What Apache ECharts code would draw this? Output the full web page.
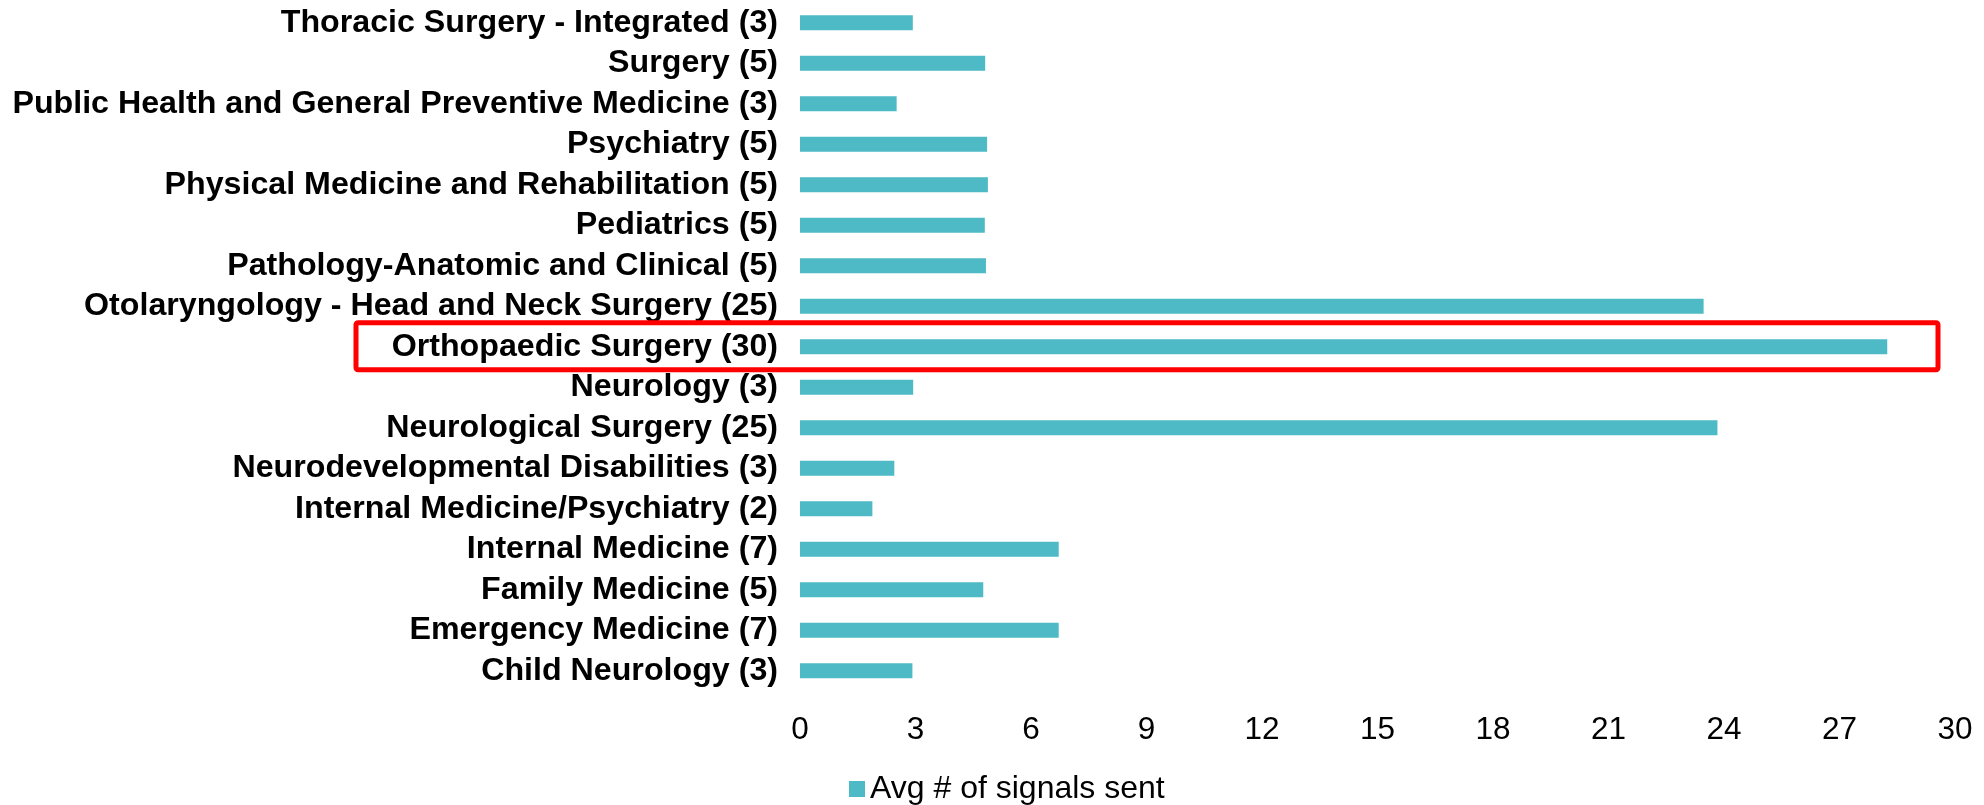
<!DOCTYPE html>
<html>
<head>
<meta charset="utf-8">
<title>Avg # of signals sent</title>
<script src="https://cdn.jsdelivr.net/npm/echarts@6/dist/echarts.min.js"></script>
<style>
  html, body { margin: 0; padding: 0; background: #ffffff; }
  #signalChart { width: 1984px; height: 805px; }
</style>
</head>
<body>
<div id="signalChart"></div>
<script>
// specialties, top to bottom as shown
var specialties = [
    'Thoracic Surgery - Integrated (3)',
    'Surgery (5)',
    'Public Health and General Preventive Medicine (3)',
    'Psychiatry (5)',
    'Physical Medicine and Rehabilitation (5)',
    'Pediatrics (5)',
    'Pathology-Anatomic and Clinical (5)',
    'Otolaryngology - Head and Neck Surgery (25)',
    'Orthopaedic Surgery (30)',
    'Neurology (3)',
    'Neurological Surgery (25)',
    'Neurodevelopmental Disabilities (3)',
    'Internal Medicine/Psychiatry (2)',
    'Internal Medicine (7)',
    'Family Medicine (5)',
    'Emergency Medicine (7)',
    'Child Neurology (3)'
]
var avgSignals = [2.93, 4.81, 2.51, 4.86, 4.88, 4.80, 4.83, 23.47, 28.24, 2.94, 23.83, 2.45, 1.88, 6.72, 4.76, 6.72, 2.92]
var seriesName = 'Avg # of signals sent'
var highlighted = 'Orthopaedic Surgery (30)'

var barColor = '#4DBAC5'
var fontFamily = '"Liberation Sans", Arial, sans-serif'

var chart = echarts.init(document.getElementById('signalChart'))

var option = {
    animation: false,
    backgroundColor: '#ffffff',
    grid: {
        left: 800,
        right: 29,
        top: 2.5,
        bottom: 114
    },
    legend: {
        show: true,
        left: 849,
        top: 773,
        padding: 0,
        itemWidth: 16,
        itemHeight: 16,
        itemGap: 5,
        icon: 'rect',
        textStyle: {
            color: '#000000',
            fontSize: 32,
            fontFamily: fontFamily
        },
        data: [seriesName]
    },
    xAxis: {
        type: 'value',
        min: 0,
        max: 30,
        interval: 3,
        axisLine: { show: false },
        axisTick: { show: false },
        splitLine: { show: false },
        axisLabel: {
            margin: 23,
            color: '#000000',
            fontSize: 31.5,
            fontFamily: fontFamily
        }
    },
    yAxis: {
        type: 'category',
        inverse: true,
        data: specialties,
        axisLine: { show: false },
        axisTick: { show: false },
        splitLine: { show: false },
        axisLabel: {
            interval: 0,
            margin: 22,
            color: '#000000',
            fontSize: 32.2,
            fontWeight: 'bold',
            fontFamily: fontFamily
        }
    },
    series: [{
        name: seriesName,
        type: 'bar',
        data: avgSignals,
        barWidth: 15,
        itemStyle: {
            color: barColor
        }
    }]
}

chart.setOption(option)

// red box round the highlighted row
var rowY = chart.convertToPixel({ yAxisIndex: 0 }, highlighted)
chart.setOption({
    graphic: [{
        type: 'rect',
        shape: { x: 356, y: rowY - 24, width: 1582, height: 47, r: 2 },
        style: { fill: 'none', stroke: '#FF0000', lineWidth: 5 },
        z: 10
    }]
})
</script>
</body>
</html>
